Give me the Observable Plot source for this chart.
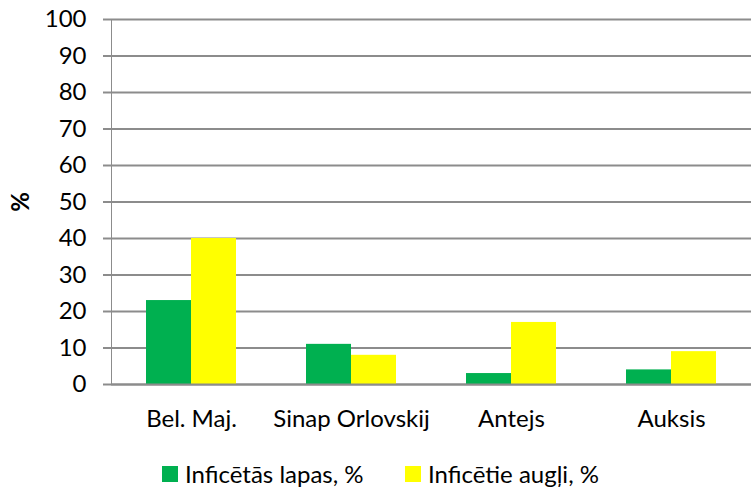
<!DOCTYPE html>
<html>
<head>
<meta charset="utf-8">
<script src="https://cdn.jsdelivr.net/npm/d3@7"></script>
<script src="https://cdn.jsdelivr.net/npm/@observablehq/plot@0.6"></script>
<style>
  html, body { margin: 0; padding: 0; background: #fff; }
  #wrap { position: relative; width: 752px; height: 489px; font-family: Lato, sans-serif; }
  #chart svg text { fill: #000; }
  #chart svg g[aria-label="y-axis label"] text { font-weight: bold; }
  #chart svg g[aria-label^="y-axis"] { stroke-width: 2; }
  #legend { position: absolute; left: 0; top: 440px; width: 752px; height: 49px; font-size: 24px; color: #000; }
  .item { position: absolute; top: 21px; display: flex; align-items: center; line-height: 26px; }
  .sw { width: 16px; height: 16px; margin-right: 7px; }
</style>
</head>
<body>
<div id="wrap">
  <div id="chart"></div>
  <div id="legend"></div>
</div>
<script>
const categories = ["Bel. Maj.", "Sinap Orlovskij", "Antejs", "Auksis"];
const series = ["Inficētās lapas, %", "Inficētie augļi, %"];
const leaves = [23, 11, 3, 4];
const fruits = [40, 8, 17, 9];
const colors = ["#00B050", "#FFFF00"];
const yTicks = [0, 10, 20, 30, 40, 50, 60, 70, 80, 90, 100];
const legendLeft = [162, 405];

const data = [];
categories.forEach((c, i) => {
  data.push({cat: c, series: series[0], value: leaves[i]});
  data.push({cat: c, series: series[1], value: fruits[i]});
});

const chart = Plot.plot({
  width: 752,
  height: 440,
  marginTop: 19,
  marginBottom: 56,
  marginLeft: 110,
  marginRight: 0,
  style: {fontFamily: "Lato, sans-serif", fontSize: "24px", color: "#8c8c8c", background: "#fff"},
  fx: {domain: categories, padding: 0, label: null, tickSize: 0, tickPadding: 25, axis: "bottom"},
  x: {domain: series, axis: null, paddingInner: 0, paddingOuter: 0.745},
  y: {domain: [0, 100], ticks: yTicks, tickSize: 8, tickPadding: 17, label: "%", labelAnchor: "center", labelOffset: 100, labelArrow: "none", line: true},
  color: {domain: series, range: colors},
  marks: [
    Plot.gridY(yTicks, {stroke: "#8c8c8c", strokeOpacity: 1, strokeWidth: 2}),
    Plot.barY(data, {fx: "cat", x: "series", y: "value", fill: "series"}),
    Plot.ruleY([0], {stroke: "#8c8c8c", strokeWidth: 2})
  ]
});
document.getElementById("chart").appendChild(chart);

const legend = document.getElementById("legend");
series.forEach((s, i) => {
  const item = document.createElement("div");
  item.className = "item";
  item.style.left = legendLeft[i] + "px";
  const sw = document.createElement("span");
  sw.className = "sw";
  sw.style.background = colors[i];
  const t = document.createElement("span");
  t.textContent = s;
  item.appendChild(sw);
  item.appendChild(t);
  legend.appendChild(item);
});
</script>
</body>
</html>
